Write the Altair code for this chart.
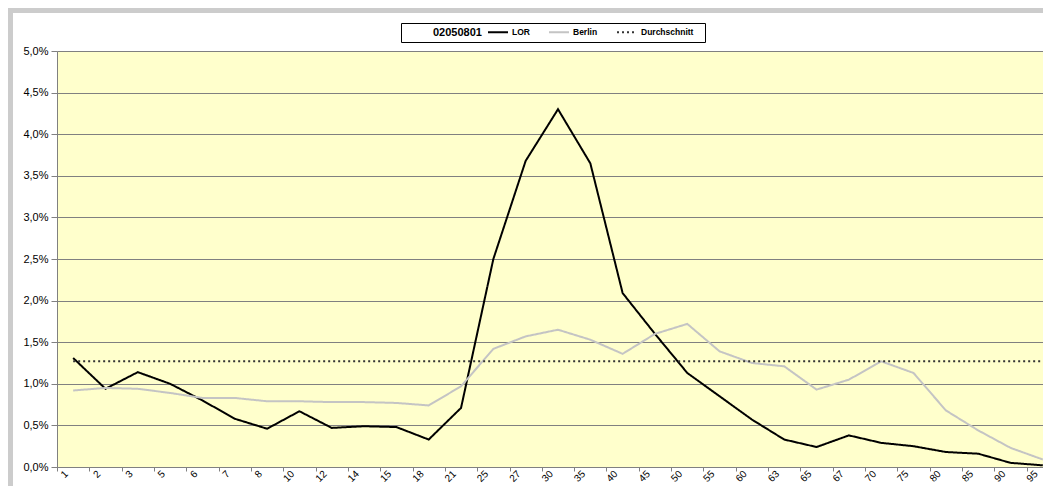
import altair as alt
import pandas as pd

AGES = ["1", "2", "3", "5", "6", "7", "8", "10", "12", "14", "15", "18", "21", "25", "27",
        "30", "35", "40", "45", "50", "55", "60", "63", "65", "67", "70", "75", "80", "85",
        "90", "95"]
LOR = [1.31, 0.94, 1.14, 1.00, 0.80, 0.58, 0.46, 0.67, 0.47, 0.49, 0.48, 0.33, 0.71, 2.50,
       3.68, 4.30, 3.65, 2.09, 1.60, 1.13, 0.85, 0.57, 0.33, 0.24, 0.38, 0.29, 0.25, 0.18,
       0.16, 0.05, 0.02]
BERLIN = [0.92, 0.95, 0.94, 0.89, 0.83, 0.83, 0.79, 0.79, 0.78, 0.78, 0.77, 0.74, 0.97, 1.42,
          1.57, 1.65, 1.53, 1.36, 1.60, 1.72, 1.39, 1.25, 1.21, 0.93, 1.05, 1.27, 1.13, 0.68,
          0.44, 0.23, 0.09]
DURCHSCHNITT = 1.27
LEGEND_TITLE = "02050801"
SERIES = ["LOR", "Berlin", "Durchschnitt"]
Y_TICKS = [0, 0.5, 1.0, 1.5, 2.0, 2.5, 3.0, 3.5, 4.0, 4.5, 5.0]

rows = []
for a, v in zip(AGES, LOR):
    rows.append({"age": a, "series": "LOR", "value": v})
for a, v in zip(AGES, BERLIN):
    rows.append({"age": a, "series": "Berlin", "value": v})
for a in AGES:
    rows.append({"age": a, "series": "Durchschnitt", "value": DURCHSCHNITT})
df = pd.DataFrame(rows)

W, H = 986, 416
FONT = "Liberation Sans"


def make_legend():
    return alt.Legend(orient="none", legendX=430, legendY=-30, direction="horizontal",
                      labelFont=FONT, labelFontSize=8.5, labelFontWeight="bold",
                      labelColor="#000000", symbolType="stroke", symbolSize=400,
                      symbolStrokeWidth=2, columnPadding=15, labelOffset=3, padding=0)


lines = alt.Chart(df).mark_line().encode(
    x=alt.X("age:N", sort=AGES, bandPosition=0.5,
            scale=alt.Scale(type="band", domain=AGES, range=[0, 1002],
                            paddingInner=0, paddingOuter=0),
            axis=alt.Axis(title=None, grid=False, domainColor="#808080", tickColor="#808080",
                          tickSize=4, tickBand="extent", labelAngle=315, labelAlign="right",
                          labelBaseline="middle", labelPadding=1, labelFontSize=10,
                          labelColor="#000000", labelFont=FONT, labelOffset=-7)),
    y=alt.Y("value:Q", scale=alt.Scale(domain=[0, 5], nice=False),
            axis=alt.Axis(title=None, values=Y_TICKS, grid=True, gridColor="#808080",
                          gridWidth=1, domainColor="#808080", tickColor="#808080", tickSize=6,
                          labelPadding=3, labelFontSize=11, labelColor="#000000", labelFont=FONT,
                          labelExpr="replace(format(datum.value, '.1f'), '.', ',') + '%'")),
    color=alt.Color("series:N", title=None,
                    scale=alt.Scale(domain=SERIES, range=["#000000", "#c4c4c4", "#333333"]),
                    legend=make_legend()),
    strokeDash=alt.StrokeDash("series:N", title=None,
                              scale=alt.Scale(domain=SERIES, range=[[1, 0], [1, 0], [2, 3]]),
                              legend=make_legend()),
    strokeWidth=alt.StrokeWidth("series:N", scale=alt.Scale(domain=SERIES, range=[2, 2, 1.5]),
                                legend=None),
)

frame_data = alt.Data(values=[{"k": 1}])
top_band = alt.Chart(frame_data).mark_rect(color="#cccccc").encode(
    x=alt.value(-49), x2=alt.value(W + 20), y=alt.value(-43), y2=alt.value(-38))
left_band = alt.Chart(frame_data).mark_rect(color="#cccccc").encode(
    x=alt.value(-49), x2=alt.value(-44), y=alt.value(-43), y2=alt.value(H + 40))
legend_box = alt.Chart(frame_data).mark_rect(fill="#ffffff", stroke="#000000",
                                             strokeWidth=1).encode(
    x=alt.value(344.5), x2=alt.value(648.5), y=alt.value(-27.5), y2=alt.value(-8.5))
legend_title = alt.Chart(alt.Data(values=[{"t": LEGEND_TITLE}])).mark_text(
    font=FONT, fontSize=11, fontWeight="bold", color="#000000", align="left",
    baseline="middle").encode(text="t:N", x=alt.value(376), y=alt.value(-18))

chart = alt.layer(top_band, left_band, legend_box, legend_title, lines).properties(
    width=W, height=H,
    autosize=alt.AutoSizeParams(type="none"),
    padding={"left": 49, "top": 43, "right": 0, "bottom": 19},
    background="#ffffff",
).configure_view(stroke=None, fill="#ffffcc")

chart.save("out.html", embed_options={"renderer": "svg", "actions": False})
